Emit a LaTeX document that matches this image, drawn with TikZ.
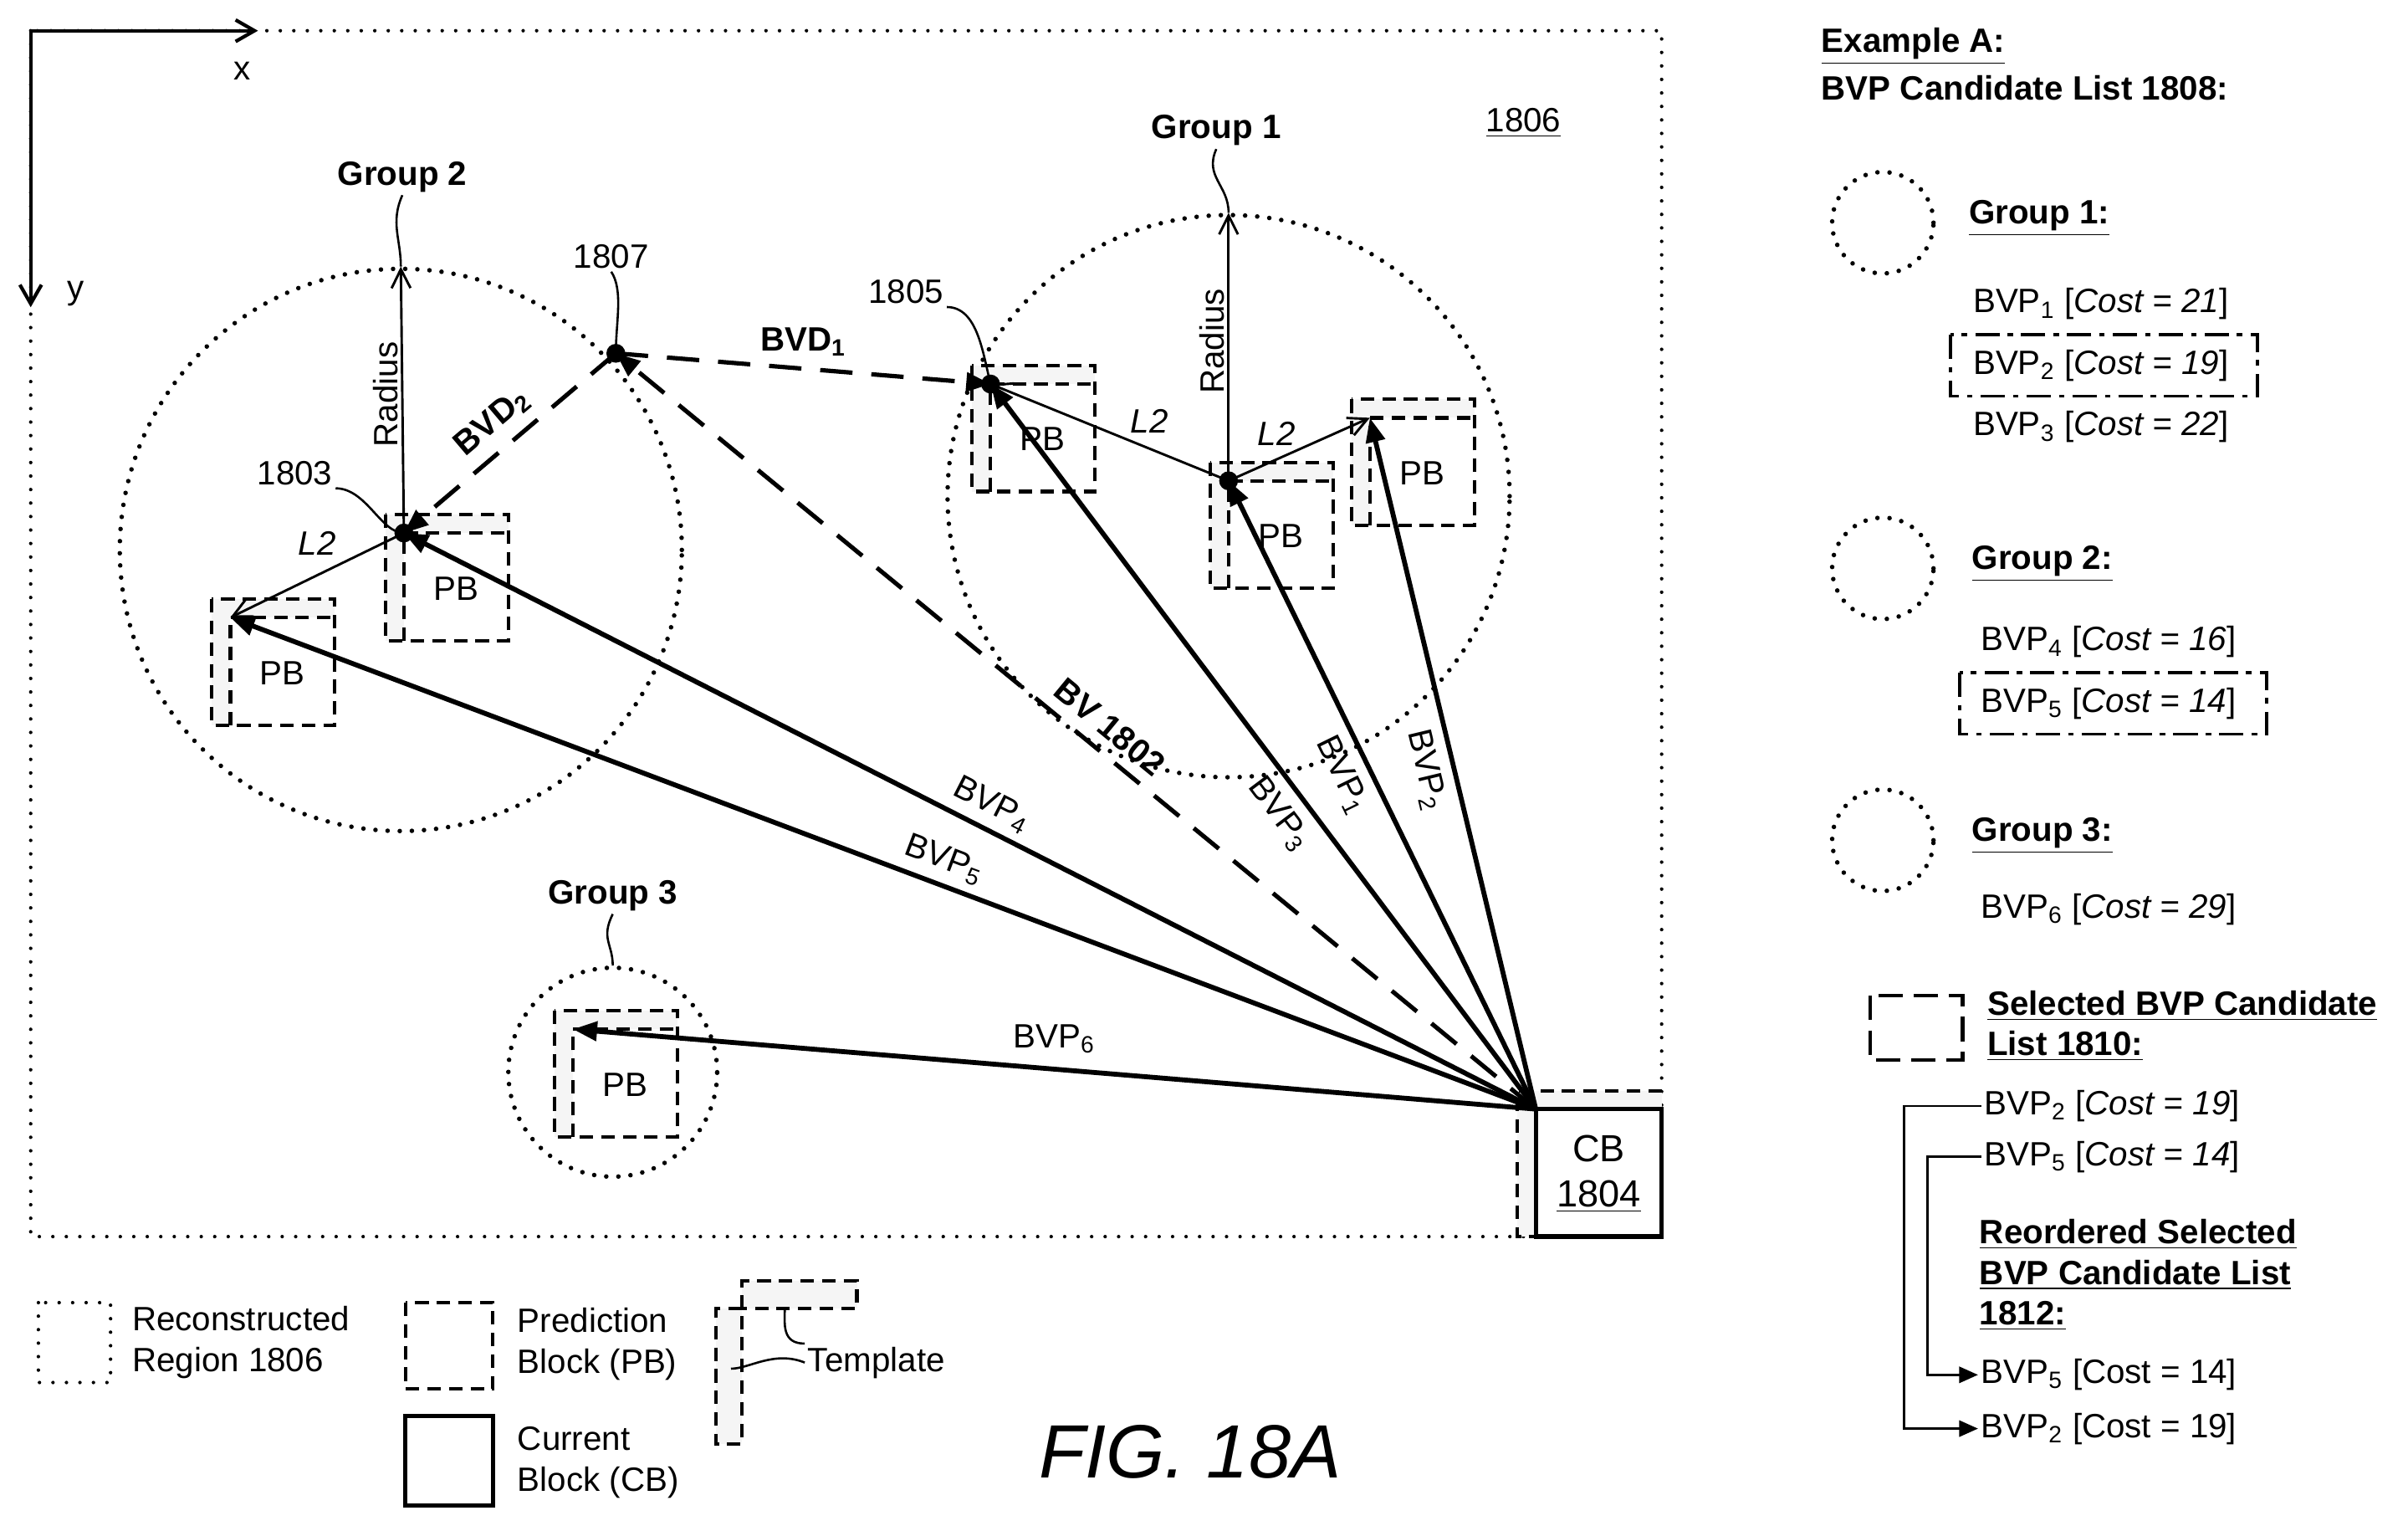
\documentclass[tikz,border=0pt]{standalone}
\usepackage{fontspec}
\setmainfont{Liberation Sans}
\usetikzlibrary{arrows.meta, positioning, calc}
\newcommand{\bvp}[1]{BVP\textsubscript{#1}}
\newcommand{\pblock}[2]{% block top-left point, label
  \fill[gray!8] ($(#1)+(-12,-12)$) rectangle ($(#1)+(68,0)$);
  \fill[gray!8] ($(#1)+(-12,0)$) rectangle ($(#1)+(0,70)$);
  \draw[pbline] ($(#1)+(-12,-12)$) rectangle ($(#1)+(68,70)$);
  \draw[pbline] ($(#1)+(0,70)$) -- (#1) -- ($(#1)+(68,0)$);
  \node[txt] at ($(#1)+(34,36)$) {#2};
}
\begin{document}
\begin{tikzpicture}[x=0.02cm, y=-0.02cm,
    txt/.style={font=\fontsize{12.5}{15}\selectfont, inner sep=1pt},
    bold/.style={txt, font=\fontsize{12.5}{15}\selectfont\bfseries},
    pbline/.style={line width=1.3pt, dash pattern=on 5pt off 3pt},
    region/.style={line width=1.3pt, dash pattern=on 0pt off 5pt, line cap=round},
    bvp/.style={line width=1.8pt, -{Triangle[length=9pt,width=7pt]}},
    thin/.style={line width=0.9pt, -{Straight Barb[length=7pt,width=7pt]}},
    bvd/.style={line width=1.6pt, dash pattern=on 12pt off 7pt, -{Triangle[length=9pt,width=7pt]}},
    lead/.style={line width=0.8pt},
    group/.style={circle, draw, line width=1.7pt, dash pattern=on 0pt off 4.5pt, line cap=round, inner sep=0pt}
]
\useasboundingbox (0,0) rectangle (1568,993);

% axes
\coordinate (o) at (20,20);
\draw[line width=1.3pt, -{Straight Barb[length=7pt,width=8pt]}] (o) -- (168,20) node[txt, pos=0.93, below=10pt] (xlab) {x};
\draw[line width=1.3pt, -{Straight Barb[length=7pt,width=8pt]}] (o) -- (20,200) node[txt, pos=0.95, right=12pt] (ylab) {y};

% reconstructed region
\draw[region] (20,20) rectangle (1082,805);
\node[txt] (r1806) at (992,80) {\underline{1806}};

% groups
\node[group, minimum size=366*0.02cm] (g2) at (261,358) {};
\node[group, minimum size=366*0.02cm] (g1) at (800,323) {};
\node[group, minimum size=136*0.02cm] (g3) at (399,698) {};

% block points
\coordinate (p1803) at (263,347);
\coordinate (pleft) at (150,402);
\coordinate (p1805) at (645,250);
\coordinate (pmid) at (800,313);
\coordinate (pright) at (892,272);
\coordinate (pg3) at (373,670);
\coordinate (p1807) at (401,230);
\coordinate (cb) at (1000,722);

% prediction blocks
\pblock{p1803}{PB}
\pblock{pleft}{PB}
\pblock{p1805}{PB}
\pblock{pmid}{PB}
\pblock{pright}{PB}
\pblock{pg3}{PB}

% current block
\fill[gray!8] (988,710) rectangle (1082,722);
\fill[gray!8] (988,722) rectangle (1000,805);
\draw[pbline] (1082,710) -- (988,710) -- (988,805) -- (1000,805);
\draw[line width=1.6pt] (cb) rectangle (1082,805);
\node[txt, font=\fontsize{14}{16}\selectfont] (cbtxt) at (1041,748) {CB};
\node[txt, font=\fontsize{14}{16}\selectfont] (cbnum) at (1041,779) {\underline{1804}};

% radius arrows
\draw[thin] (p1803) -- (g2.north) node[txt, midway, rotate=90, above=2pt] {Radius};
\draw[thin] (pmid) -- (g1.north) node[txt, midway, rotate=90, above=2pt] {Radius};

% L2 arrows
\draw[thin] (p1803) -- (pleft) node[txt, midway, above=6pt] {\textit{L2}};
\draw[thin] (pmid) -- (p1805) node[txt, pos=0.45, above right=0pt and 2pt] {\textit{L2}};
\draw[thin] (pmid) -- (pright) node[txt, midway, above left=0pt and 0pt] {\textit{L2}};

% block vector differences
\draw[bvd] (p1807) -- (p1805) node[bold, midway, above=3pt] {BVD\textsubscript{1}};
\draw[bvd] (p1807) -- (p1803) node[bold, midway, sloped, above=3pt] {BVD\textsubscript{2}};
\draw[bvd] (cb) -- (p1807) node[bold, pos=0.48, sloped, above=3pt] {BV 1802};

% block vector predictors
\draw[bvp] (cb) -- (pg3) node[txt, pos=0.5, above=4pt] {\bvp{6}};
\draw[bvp] (cb) -- (pleft) node[txt, pos=0.46, sloped, above=2pt] {\bvp{5}};
\draw[bvp] (cb) -- (p1803) node[txt, pos=0.49, sloped, above=2pt] {\bvp{4}};
\draw[bvp] (cb) -- (p1805) node[txt, pos=0.43, sloped, below=3pt] {\bvp{3}};
\draw[bvp] (cb) -- (pmid) node[txt, pos=0.55, sloped, below=3pt] {\bvp{1}};
\draw[bvp] (cb) -- (pright) node[txt, pos=0.5, sloped, below=3pt] {\bvp{2}};

% group and reference labels
\node[bold] (lg2) at (262,115) {Group 2};
\node[bold] (lg1) at (792,85) {Group 1};
\node[bold] (lg3) at (399,583) {Group 3};
\node[txt] (l1803) at (192,308) {1803};
\node[txt] (l1807) at (398,167) {1807};
\node[txt] (l1805) at (590,190) {1805};
\draw[lead] (lg2.south) .. controls +(-8,18) and +(0,-18) .. (g2.north);
\draw[lead] (lg1.south) .. controls +(-8,18) and +(0,-18) .. (g1.north);
\draw[lead] (lg3.south) .. controls +(-8,16) and +(0,-14) .. (g3.north);
\draw[lead] (l1803.south east) .. controls +(20,0) and +(-15,0) .. (p1803);
\draw[lead] (l1807.south) .. controls +(8,12) and +(0,-20) .. (p1807);
\draw[lead] (l1805.south east) .. controls +(20,0) and +(-5,-20) .. (p1805);
\foreach \p in {p1803, p1807, p1805, pmid}
  \fill (\p) circle (3.5pt);

% legend
\draw[region] (25,848) rectangle (72,900);
\node[txt, anchor=west, align=left] (lreg) at (84,874) {Reconstructed\\Region 1806};
\draw[pbline] (264,848) rectangle (321,904);
\node[txt, anchor=west, align=left] (lpb) at (335,875) {Prediction\\Block (PB)};
\draw[line width=1.6pt] (264,922) rectangle (321,980);
\node[txt, anchor=west, align=left] (lcb) at (335,952) {Current\\Block (CB)};
\fill[gray!8] (483,834) rectangle (558,852);
\fill[gray!8] (466,852) rectangle (483,940);
\draw[pbline] (483,852) -- (483,834) -- (558,834) -- (558,852) -- (483,852);
\draw[pbline] (483,852) -- (466,852) -- (466,940) -- (483,940) -- (483,852);
\node[txt, anchor=west] (ltpl) at (524,887) {Template};
\draw[lead] (ltpl.west) .. controls +(-20,-8) and +(12,0) .. (476,891);
\draw[lead] (ltpl.north west) .. controls +(-15,0) and +(0,10) .. (511,852);
\node[txt, font=\fontsize{28}{32}\selectfont\itshape] (fig) at (775,945) {FIG. 18A};

% candidate lists
\node[bold, anchor=west] (exa) at (1184,30) {\underline{Example A:}};
\node[bold, anchor=west] (list1808) at (1184,57) {BVP Candidate List 1808:};
\node[group, minimum size=66*0.02cm] (c1) at (1226,145) {};
\node[bold, anchor=west] (h1) at (1280,142) {\underline{Group 1:}};
\node[txt] (b1) at (1368,198) {\bvp{1} [\textit{Cost = 21}]};
\node[txt] (b2) at (1368,238) {\bvp{2} [\textit{Cost = 19}]};
\node[txt] (b3) at (1368,278) {\bvp{3} [\textit{Cost = 22}]};
\draw[line width=1.1pt, dash pattern=on 9pt off 3pt on 2pt off 3pt] (1270,218) rectangle (1470,258);
\node[group, minimum size=66*0.02cm] (c2) at (1226,370) {};
\node[bold, anchor=west] (h2) at (1282,367) {\underline{Group 2:}};
\node[txt] (b4) at (1373,418) {\bvp{4} [\textit{Cost = 16}]};
\node[txt] (b5) at (1373,458) {\bvp{5} [\textit{Cost = 14}]};
\draw[line width=1.1pt, dash pattern=on 9pt off 3pt on 2pt off 3pt] (1276,438) rectangle (1476,478);
\node[group, minimum size=66*0.02cm] (c3) at (1226,547) {};
\node[bold, anchor=west] (h3) at (1282,544) {\underline{Group 3:}};
\node[txt] (b6) at (1373,592) {\bvp{6} [\textit{Cost = 29}]};
\draw[line width=1.3pt, dash pattern=on 9pt off 4pt] (1218,648) rectangle (1278,690);
\node[bold, anchor=west, align=left] (sel) at (1292,668) {\underline{Selected BVP Candidate}\\\underline{List 1810:}};
\node[txt, anchor=west] (s2) at (1290,720) {\bvp{2} [\textit{Cost = 19}]};
\node[txt, anchor=west] (s5) at (1290,753) {\bvp{5} [\textit{Cost = 14}]};
\node[bold, anchor=west, align=left] (reord) at (1287,830) {\underline{Reordered Selected}\\\underline{BVP Candidate List}\\\underline{1812:}};
\node[txt, anchor=west] (r5) at (1288,895) {\bvp{5} [Cost = 14]};
\node[txt, anchor=west] (r2) at (1288,930) {\bvp{2} [Cost = 19]};
\draw[line width=0.9pt, -{Triangle[length=7pt,width=6pt]}] (s2.west) -- ++(-50,0) |- (r2.west);
\draw[line width=0.9pt, -{Triangle[length=7pt,width=6pt]}] (s5.west) -- ++(-35,0) |- (r5.west);
\end{tikzpicture}
\end{document}
